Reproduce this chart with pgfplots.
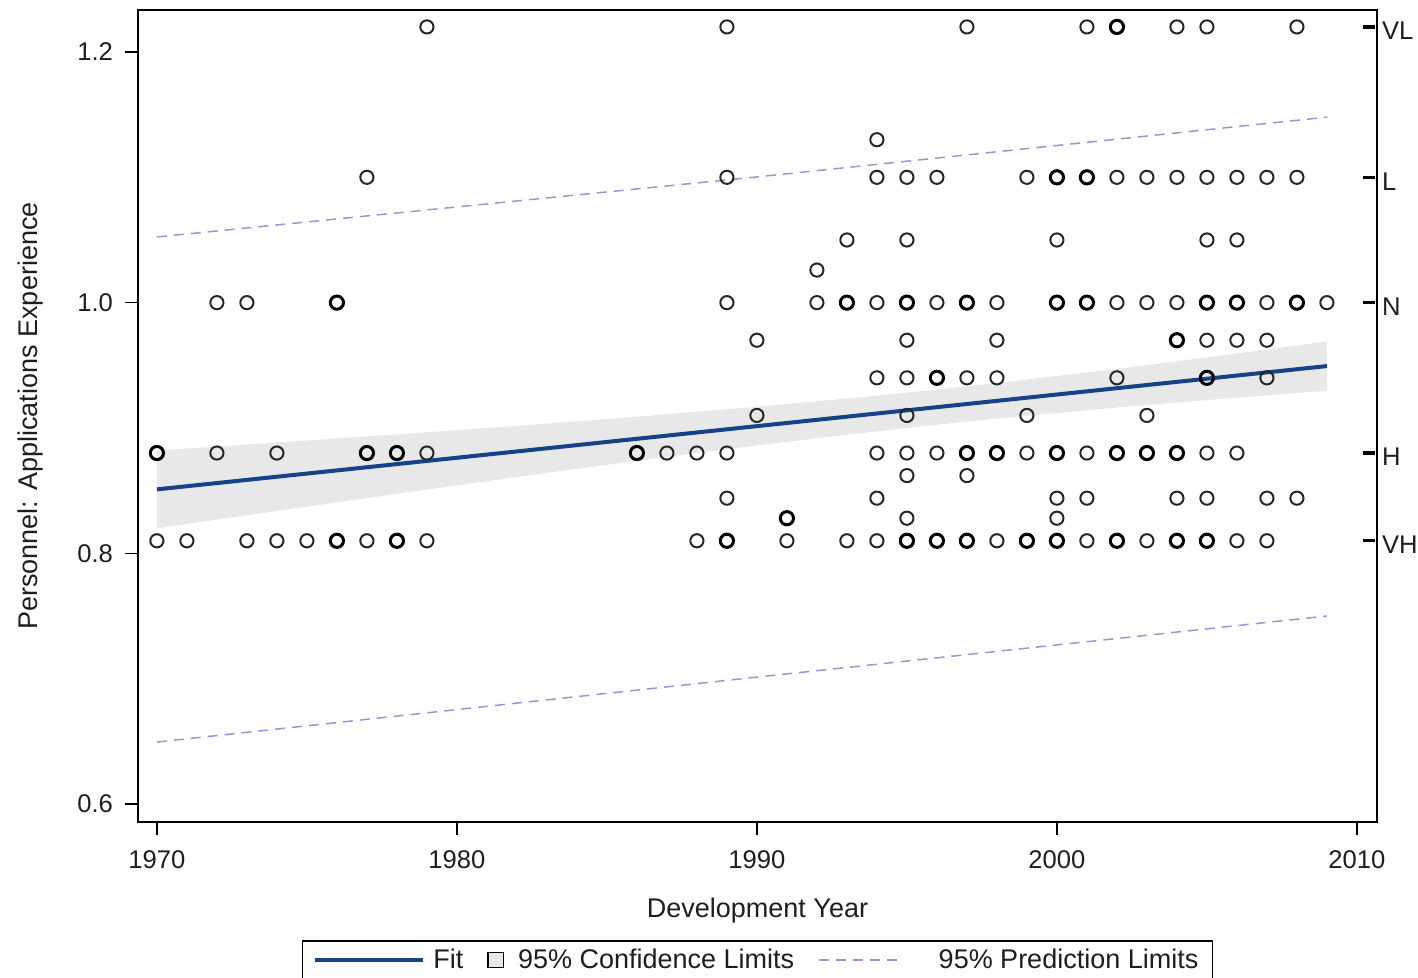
\documentclass[border=0pt]{standalone}
\usepackage{pgfplots}
\pgfplotsset{compat=1.18}
\usepackage{pgfplotstable}
\usepackage{fontspec}
\setmainfont{Liberation Sans}
\usetikzlibrary{calc}
\definecolor{fitblue}{RGB}{22,66,135}
\definecolor{predc}{RGB}{150,150,215}
\definecolor{bandg}{RGB}{232,232,232}
\definecolor{txt}{RGB}{30,30,30}

\pgfplotstableread{
x y
1979 1.22
1989 1.22
1997 1.22
2001 1.22
2004 1.22
2005 1.22
2008 1.22
1994 1.13
1977 1.10
1989 1.10
1994 1.10
1995 1.10
1996 1.10
1999 1.10
2002 1.10
2003 1.10
2004 1.10
2005 1.10
2006 1.10
2007 1.10
2008 1.10
1993 1.05
1995 1.05
2000 1.05
2005 1.05
2006 1.05
1992 1.026
1972 1.0
1973 1.0
1989 1.0
1992 1.0
1994 1.0
1996 1.0
1998 1.0
2002 1.0
2003 1.0
2004 1.0
2007 1.0
2009 1.0
1990 0.97
1995 0.97
1998 0.97
2005 0.97
2006 0.97
2007 0.97
1994 0.94
1995 0.94
1997 0.94
1998 0.94
2002 0.94
2007 0.94
1990 0.91
1995 0.91
1999 0.91
2003 0.91
1972 0.88
1974 0.88
1979 0.88
1987 0.88
1988 0.88
1989 0.88
1994 0.88
1995 0.88
1996 0.88
1999 0.88
2001 0.88
2005 0.88
2006 0.88
1995 0.862
1997 0.862
1989 0.844
1994 0.844
2000 0.844
2001 0.844
2004 0.844
2005 0.844
2007 0.844
2008 0.844
1995 0.828
2000 0.828
1970 0.81
1971 0.81
1973 0.81
1974 0.81
1975 0.81
1977 0.81
1979 0.81
1988 0.81
1991 0.81
1993 0.81
1994 0.81
1998 0.81
2001 0.81
2003 0.81
2006 0.81
2007 0.81
}\thinpts

\pgfplotstableread{
x y
2002 1.22
2000 1.10
2001 1.10
1976 1.0
1993 1.0
1995 1.0
1997 1.0
2000 1.0
2001 1.0
2005 1.0
2006 1.0
2008 1.0
2004 0.97
1996 0.94
2005 0.94
1970 0.88
1977 0.88
1978 0.88
1986 0.88
1997 0.88
1998 0.88
2000 0.88
2002 0.88
2003 0.88
2004 0.88
1991 0.828
1976 0.81
1978 0.81
1989 0.81
1995 0.81
1996 0.81
1997 0.81
1999 0.81
2000 0.81
2002 0.81
2004 0.81
2005 0.81
}\boldpts

\pgfplotstableread{
x y
1970 0.882
1974 0.8884
1978 0.8949
1982 0.9017
1986 0.9090
1990 0.9169
1994 0.9258
1996 0.9306
1998 0.9359
2002 0.9471
2006 0.9594
2009 0.9691
2009 0.9297
2006 0.9242
2002 0.9163
1998 0.9075
1996 0.9026
1994 0.8974
1990 0.8861
1986 0.8738
1982 0.8609
1978 0.8475
1974 0.8338
1970 0.8200
}\band

\begin{document}
\begin{tikzpicture}
\begin{axis}[
  scale only axis, width=619.5pt, height=406pt,
  xmin=1969.37, xmax=2010.67, ymin=0.5856, ymax=1.2335,
  xtick={1970,1980,1990,2000,2010},
  ytick={0.6,0.8,1.0,1.2},
  /pgf/number format/1000 sep={},
  /pgf/number format/assume math mode=true,
  yticklabel style={/pgf/number format/fixed,/pgf/number format/fixed zerofill,/pgf/number format/precision=1, xshift=-2.5pt},
  xticklabel style={yshift=-4.5pt},
  tick align=outside, xtick pos=bottom, ytick pos=left,
  major tick length=6.5pt,
  tick style={line width=0.8pt, black},
  axis line style={line width=1pt, black},
  tick label style={font=\fontsize{12.8}{15}\selectfont, text=txt},
  label style={font=\fontsize{13.5}{16}\selectfont, text=txt},
  xlabel={Development Year},
  ylabel={Personnel: Applications Experience},
  xlabel style={at={(axis description cs:0.5,-0.1084)}, anchor=center},
  ylabel style={at={(axis description cs:-0.0865,0.5)}, anchor=center},
  legend columns=3,
  legend style={at={(axis description cs:0.5,-0.1453)}, anchor=north,
    draw=black, line width=0.8pt, font=\fontsize{13.5}{16}\selectfont, text=txt,
    inner xsep=5pt, inner ysep=2pt,
    /tikz/every even column/.append style={column sep=10pt}},
  clip=false,
]
\addplot[fill=bandg, draw=none, forget plot] table {\band} -- cycle;
\addplot[predc, line width=0.75pt, dash pattern=on 5pt off 3.5pt, forget plot] coordinates {(1970,1.0524) (1990,1.1003) (2009,1.148)};
\addplot[predc, line width=0.75pt, dash pattern=on 5pt off 3.5pt, forget plot] coordinates {(1970,0.6494) (1990,0.7012) (2009,0.750)};
\addplot[fitblue, line width=2pt, forget plot] coordinates {(1970,0.851) (2009,0.9494)};
\addplot[only marks, mark=o, mark size=3.3pt, mark options={line width=1pt, draw=black!85}, forget plot] table {\thinpts};
\addplot[only marks, mark=o, mark size=3.3pt, mark options={line width=1.5pt, draw=black}, forget plot] table {\boldpts};
\addlegendimage{legend image code/.code={\draw[fitblue, line width=2pt] (0pt,0pt) -- (54pt,0pt); \path (57pt,0pt);}}
\addlegendentry{Fit}
\addlegendimage{legend image code/.code={\draw[fill=bandg, draw=black, line width=0.6pt] (0pt,-3.8pt) rectangle (7.6pt,3.8pt); \path (12.6pt,0pt);}}
\addlegendentry{95\% Confidence Limits}
\addlegendimage{legend image code/.code={\draw[predc, line width=0.75pt, dash pattern=on 5pt off 3.5pt] (0pt,0pt) -- (40pt,0pt); \path (57.5pt,0pt);}}
\addlegendentry{95\% Prediction Limits}
\coordinate (bl) at (rel axis cs:0,0);
\coordinate (tr) at (rel axis cs:1,1);
\end{axis}
\begin{axis}[
  scale only axis, width=619.5pt, height=406pt,
  xmin=1969.37, xmax=2010.67, ymin=0.5856, ymax=1.2335,
  axis x line=none, axis y line*=right,
  y axis line style={draw=none},
  ytick={0.81,0.88,1.0,1.10,1.22},
  yticklabels={VH,H,N,L,VL},
  tick align=inside, major tick length=6pt,
  ytick style={line width=1.6pt, black, xshift=-1pt},
  yticklabel style={font=\fontsize{12.8}{15}\selectfont, text=txt, yshift=-2pt, xshift=-1pt},
]
\addplot[draw=none, forget plot] coordinates {(1970,0.8)};
\end{axis}
\pgfresetboundingbox
\path[use as bounding box] ($(bl)+(-69pt,-77.5pt)$) rectangle ($(tr)+(20.5pt,5pt)$);
\end{tikzpicture}
\end{document}
